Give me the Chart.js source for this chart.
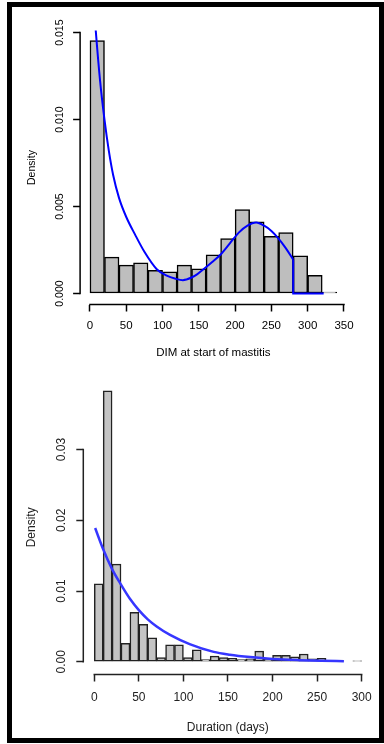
<!DOCTYPE html>
<html>
<head>
<meta charset="utf-8">
<script src="https://cdn.jsdelivr.net/npm/chart.js@4.4.1/dist/chart.umd.min.js"></script>
<style>
  html, body { margin: 0; padding: 0; background: #fff; }
  body { width: 384px; height: 744px; position: relative; overflow: hidden; }
  canvas { position: absolute; left: 0; }
  #chartDim { top: 0; }
  #chartDur { top: 370px; }
  #marco { position: absolute; left: 7px; top: 2px; width: 377px; height: 741px;
           border: 5px solid #000; box-sizing: border-box; pointer-events: none; }
</style>
</head>
<body>
<canvas id="chartDim" width="384" height="370"></canvas>
<canvas id="chartDur" width="384" height="374"></canvas>
<div id="marco"></div>
<script>
// ---- panel 1: DIM at start of mastitis (bins of 20) ----
const dimBinCenters = [10, 30, 50, 70, 90, 110, 130, 150, 170, 190, 210, 230, 250, 270, 290, 310, 330];
const dimDensity = [0.01454, 0.00209, 0.00163, 0.00176, 0.00134, 0.00125, 0.00163, 0.00142, 0.00222,
                    0.00316, 0.00483, 0.00412, 0.00329, 0.00351, 0.00217, 0.00105, 0.00008];
const dimCurveX = [0, 8, 14, 20, 26, 32, 40, 50, 62, 75, 92, 105, 118, 128, 140, 148, 156, 168, 179,
                   193, 205, 217, 229, 240, 250, 259, 270, 280];
const dimCurveY = [0.0196, 0.0151, 0.0122, 0.0100, 0.0082, 0.0068, 0.0055, 0.0044, 0.0034, 0.0024,
                   0.00140, 0.00105, 0.00085, 0.00077, 0.00092, 0.00112, 0.00138, 0.0018, 0.0022,
                   0.0029, 0.0035, 0.0039, 0.00408, 0.0039, 0.0036, 0.0032, 0.0026, 0.00195];
const dimTailX = [280, 280, 322];
const dimTailY = [0.00195, 0, 0];
const dimXTicks = [0, 50, 100, 150, 200, 250, 300, 350];
const dimYTicks = [0, 0.005, 0.010, 0.015];

// ---- panel 2: Duration (days) (bins of 10) ----
const durBinCenters = [5, 15, 25, 35, 45, 55, 65, 75, 85, 95, 105, 115, 125, 135, 145,
                       155, 165, 175, 185, 195, 205, 215, 225, 235, 245, 255, 265, 275, 285, 295];
const durDensity = [0.0110, 0.0383, 0.0138, 0.0026, 0.0070, 0.0053, 0.0034, 0.0006, 0.0024, 0.0024,
                    0.0006, 0.0017, 0.0003, 0.0008, 0.0006, 0.0005, 0.0003, 0.0004, 0.0015, 0.0004,
                    0.0009, 0.0009, 0.0007, 0.0011, 0.0004, 0.0005, 0.00014, 0.00014, 0, 0.00014];
const durCurveX = [1, 10, 20, 30, 40, 50, 60, 70, 85, 107, 134, 152, 175, 200, 230, 255, 280];
const durCurveY = [0.0189, 0.0159, 0.0131, 0.0109, 0.0089, 0.0073, 0.0060, 0.0050, 0.0038, 0.0025,
                   0.0014, 0.0010, 0.00066, 0.00040, 0.00023, 0.00014, 0.00008];
const durXTicks = [0, 50, 100, 150, 200, 250, 300];
const durYTicks = [0, 0.01, 0.02, 0.03];

const FUENTE = "'Liberation Sans', Arial, Helvetica, sans-serif";

const pares = (xs, ys) => xs.map((x, i) => ({ x, y: ys[i] }));

// R-style axis line: only from first to last tick
const lineasEje = {
  id: 'lineasEje',
  afterDraw(chart) {
    const { ctx } = chart;
    const x = chart.scales.x, y = chart.scales.y;
    const xt = x.ticks, yt = y.ticks;
    ctx.save();
    ctx.strokeStyle = chart.options.scales.x.grid.tickColor;
    ctx.lineWidth = 1.5;
    ctx.lineCap = 'square';
    ctx.beginPath();
    ctx.moveTo(x.getPixelForValue(xt[0].value), x.top);
    ctx.lineTo(x.getPixelForValue(xt[xt.length - 1].value), x.top);
    ctx.moveTo(y.right, y.getPixelForValue(yt[0].value));
    ctx.lineTo(y.right, y.getPixelForValue(yt[yt.length - 1].value));
    ctx.stroke();
    ctx.restore();
  }
};

function histograma(id, p) {
  const datasets = [{
    type: 'line', data: pares(p.curvaX, p.curvaY), borderColor: p.azul, borderWidth: p.grosor,
    pointRadius: 0, cubicInterpolationMode: 'monotone', fill: false, clip: 0, order: 1
  }];
  if (p.colaX) {
    datasets.push({
      type: 'line', data: pares(p.colaX, p.colaY), borderColor: p.azul, borderWidth: p.grosor,
      pointRadius: 0, tension: 0, fill: false, clip: 0, order: 1
    });
  }
  datasets.push({
    type: 'bar', data: pares(p.centros, p.densidad), backgroundColor: p.gris, borderColor: p.borde,
    borderWidth: 1.5, borderSkipped: false, barPercentage: 1, categoryPercentage: 1, order: 2
  });

  const texto = p.colorTexto;
  return new Chart(document.getElementById(id), {
    type: 'bar',
    data: { datasets },
    options: {
      responsive: false,
      animation: false,
      events: [],
      layout: { padding: p.padding },
      plugins: { legend: { display: false }, tooltip: { enabled: false } },
      scales: {
        x: {
          type: 'linear', min: p.xMin, max: p.xMax, offset: false,
          afterBuildTicks: s => { s.ticks = p.xTicks.map(v => ({ value: v })); },
          afterFit: s => { s.height = p.altoX; },
          grid: { offset: false, drawOnChartArea: false, drawTicks: true, tickLength: 7, tickColor: p.borde, tickWidth: 1.5 },
          border: { display: false },
          ticks: { autoSkip: false, maxRotation: 0, padding: p.padX, color: texto,
                   font: { family: FUENTE, size: p.fuenteX }, callback: v => String(v) },
          title: { display: true, text: p.tituloX, color: texto, font: { family: FUENTE, size: p.fuenteX },
                   padding: { top: 4, bottom: 4 } }
        },
        y: {
          type: 'linear', min: p.yMin, max: p.yMax,
          afterBuildTicks: s => { s.ticks = p.yTicks.map(v => ({ value: v })); },
          afterFit: s => { s.width = p.anchoY; },
          grid: { drawOnChartArea: false, drawTicks: true, tickLength: 7, tickColor: p.borde, tickWidth: 1.5 },
          border: { display: false },
          ticks: { autoSkip: false, minRotation: 90, maxRotation: 90, crossAlign: 'center', padding: p.padY,
                   color: texto, font: { family: FUENTE, size: p.fuenteY }, callback: v => v.toFixed(p.decimales) },
          title: { display: true, text: 'Density', color: texto, font: { family: FUENTE, size: p.fuenteY },
                   padding: { top: 4, bottom: 4 } }
        }
      }
    },
    plugins: [lineasEje]
  });
}

histograma('chartDim', {
  centros: dimBinCenters, densidad: dimDensity,
  curvaX: dimCurveX, curvaY: dimCurveY, colaX: dimTailX, colaY: dimTailY,
  xTicks: dimXTicks, yTicks: dimYTicks, decimales: 3,
  xMin: -13.6, xMax: 353.6, yMin: -0.00063, yMax: 0.01512,
  padding: { left: 21.4, right: 37.4, top: 30.5, bottom: 6.4 },
  altoX: 59.1, anchoY: 58.7, padX: 7, padY: 0,
  fuenteX: 11.5, fuenteY: 10.5,
  tituloX: 'DIM at start of mastitis',
  azul: '#0000ff', grosor: 2, gris: '#bebebe', borde: '#000', colorTexto: '#000'
});

histograma('chartDur', {
  centros: durBinCenters, densidad: durDensity,
  curvaX: durCurveX, curvaY: durCurveY,
  xTicks: durXTicks, yTicks: durYTicks, decimales: 2,
  xMin: -12.3, xMax: 312, yMin: -0.0018, yMax: 0.0398,
  padding: { left: 20.5, right: 11.6, top: 5, bottom: 5.6 },
  altoX: 63.9, anchoY: 62.8, padX: 9, padY: 3,
  fuenteX: 12, fuenteY: 12,
  tituloX: 'Duration (days)',
  azul: '#3636ff', grosor: 2.5, gris: '#c4c4c4', borde: '#222', colorTexto: '#222'
});
</script>
</body>
</html>
